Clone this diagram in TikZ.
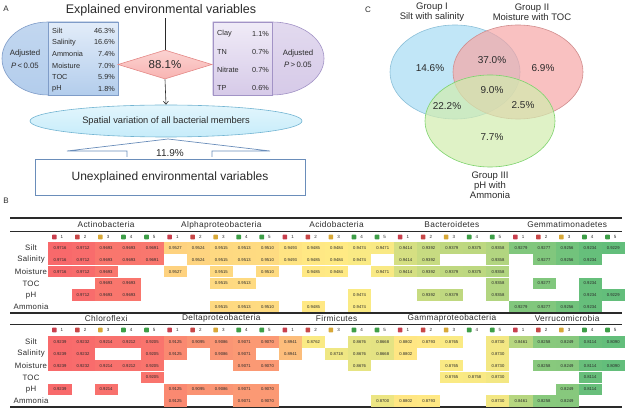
\documentclass[tikz,border=0pt]{standalone}
\usepackage{fontspec}
\setmainfont{Liberation Sans}
\usetikzlibrary{shapes.geometric,arrows.meta}
\definecolor{cred}{HTML}{F8696B}
\definecolor{cyel}{HTML}{FFEB84}
\definecolor{cgrn}{HTML}{63BE7B}
\definecolor{lblue}{HTML}{B3CDEC}
\definecolor{lblue2}{HTML}{CFE0F5}
\definecolor{bblue}{HTML}{7F9CC8}
\definecolor{lpur}{HTML}{D6CAE8}
\definecolor{lpur2}{HTML}{E6DEF2}
\definecolor{bpur}{HTML}{A293C6}
\definecolor{lpink}{HTML}{F8B4B2}
\definecolor{bpink}{HTML}{E48886}
\definecolor{lcyan}{HTML}{C6ECFA}
\definecolor{bcyan}{HTML}{72B4D2}
\definecolor{bbox}{HTML}{6A8DBA}
\definecolor{vblue}{HTML}{A6DCF4}
\definecolor{vbluel}{HTML}{8CBFD8}
\definecolor{vred}{HTML}{F6A6A6}
\definecolor{vredl}{HTML}{D08E8E}
\definecolor{vgrn}{HTML}{D2ECAE}
\definecolor{vgrnl}{HTML}{7CD36C}
\definecolor{leg1}{HTML}{C8404E}
\definecolor{leg2}{HTML}{C84848}
\definecolor{leg3}{HTML}{D8A838}
\definecolor{leg4}{HTML}{3E9E48}
\definecolor{leg5}{HTML}{3E9E48}
\definecolor{txt}{HTML}{2A2A2A}
\newcommand{\bcell}[3]{%
  \pgfmathsetmacro{\bcx}{60+23.05*#1}%
  \pgfmathsetmacro{\bcy}{\rowbase+11.8*#2}%
  \pgfmathtruncatemacro{\isup}{#3>=\tmd}%
  \ifnum\isup=1
    \pgfmathtruncatemacro{\pctv}{max(0,min(100,(#3-\tmd)/(\thi-\tmd)*100))}%
    \colorlet{cellc}{cred!\pctv!cyel}%
  \else
    \pgfmathtruncatemacro{\pctv}{max(0,min(100,(#3-\tlo)/(\tmd-\tlo)*100))}%
    \colorlet{cellc}{cyel!\pctv!cgrn}%
  \fi
  \fill[cellc] (\bcx-11.53,\bcy-5.7) rectangle (\bcx+11.53,\bcy+5.7);%
  \node[val] at (\bcx,\bcy) {#3};%
}
\begin{document}
\begin{tikzpicture}[x=1pt,y=-1pt,
  lbl/.style={font=\fontsize{8}{9}\selectfont, text=txt, inner sep=0},
  ttl/.style={font=\fontsize{12.5}{14}\selectfont, text=txt, inner sep=0},
  lst/.style={font=\fontsize{7.3}{8}\selectfont, text=txt, inner sep=0},
  adj/.style={font=\fontsize{7.8}{9}\selectfont, text=txt, inner sep=0},
  venn/.style={font=\fontsize{9.5}{11}\selectfont, text=txt, inner sep=0, align=center},
  vpct/.style={font=\fontsize{10}{11}\selectfont, text=txt, inner sep=0},
  val/.style={font=\fontsize{4.2}{5}\selectfont, text=txt, inner sep=0},
  dig/.style={font=\fontsize{4.5}{5}\selectfont, text=txt, inner sep=0},
  hdr/.style={font=\fontsize{8.3}{9}\selectfont\addfontfeature{LetterSpace=4}, text=txt, inner sep=0},
  rowl/.style={font=\fontsize{7.8}{9}\selectfont\addfontfeature{LetterSpace=4}, text=txt, inner sep=0},
  thick rule/.style={line width=1.4pt, draw=txt},
  thin rule/.style={line width=0.6pt, draw=txt}
]
\useasboundingbox (0,0) rectangle (639,419);
%================ Panel A
\node[lbl] (labA) at (6,9) {A};
\node[ttl] (title) at (161,10) {Explained environmental variables};
% left shape
\path[top color=lblue!80!white, bottom color=lblue, draw=bblue, line width=0.6pt]
  (118,22) -- (48,22) arc[start angle=270,end angle=90,x radius=46,y radius=36.5] -- (118,95) -- cycle;
\node[draw=bblue, line width=0.6pt, top color=lblue2!60!white, bottom color=lblue, minimum width=70pt, minimum height=73pt, inner sep=0, anchor=north west] (lbox) at (48,22) {};
\node[adj] (adjl) at (25,53) {Adjusted};
\node[adj] (pl) at (25,66) {\textit{P}\,<\,0.05};
\foreach \nm/\vv [count=\k from 0] in {Silt/46.3\%, Salinity/16.6\%, Ammonia/7.4\%, Moisture/7.0\%, TOC/5.9\%, pH/1.8\%}{
  \node[lst, anchor=west] at (52,30.5+11.7*\k) {\nm};
  \node[lst, anchor=east] at (115,30.5+11.7*\k) {\vv};
}
% right shape
\path[top color=lpur!70!white, bottom color=lpur, draw=bpur, line width=0.6pt]
  (213,22) -- (272,22) arc[start angle=-90,end angle=90,x radius=52,y radius=36.5] -- (213,95) -- cycle;
\node[draw=bpur, line width=0.6pt, top color=lpur2!60!white, bottom color=lpur, minimum width=59pt, minimum height=73pt, inner sep=0, anchor=north west] (rbox) at (213,22) {};
\node[adj] (adjr) at (298,53) {Adjusted};
\node[adj] (pr) at (298,65) {\textit{P}\,>\,0.05};
\foreach \nm/\vv [count=\k from 0] in {Clay/1.1\%, TN/0.7\%, Nitrate/0.7\%, TP/0.6\%}{
  \node[lst, anchor=west] at (217,33.5+18.2*\k) {\nm};
  \node[lst, anchor=east] at (269,33.5+18.2*\k) {\vv};
}
% diamond
\node[diamond, draw=bpink, line width=0.6pt, top color=lpink!60!white, bottom color=lpink, aspect=3.2, minimum width=94pt, minimum height=29pt, inner sep=0pt, font=\fontsize{11.5}{13}\selectfont, text=txt] (dia) at (165,64.5) {88.1\%};
% ellipse
\node[ellipse, draw=bcyan, line width=0.6pt, top color=lcyan!50!white, bottom color=lcyan, minimum width=272pt, minimum height=32pt, inner sep=0pt, font=\fontsize{9.3}{11}\selectfont, text=txt] (ell) at (166,121) {Spatial variation of all bacterial members};
% connectors
\draw[line width=0.6pt, txt] (title.south -| dia.north) ++(0,2) -- (dia.north);
\draw[line width=0.6pt, txt, -{Straight Barb[length=3pt,width=5pt]}] (dia.south) -- (ell.north);
% callout
\coordinate (apex) at (168,139);
\draw[bbox, line width=0.7pt] (127,157) -- (127,151) -- (67,151) -- (apex) -- (270,151) -- (212,151) -- (212,157);
\node[font=\fontsize{10}{11}\selectfont, text=txt, inner sep=0] (p119) at (170,153) {11.9\%};
\node[draw=bbox, line width=0.8pt, fill=white, minimum width=270pt, minimum height=36pt, inner sep=0, font=\fontsize{12}{14}\selectfont, text=txt] (unex) at (170,177) {Unexplained environmental variables};
%================ Panel C
\node[lbl] (labC) at (368,10) {C};
\draw[fill=vblue, fill opacity=0.7, draw=vbluel, line width=0.6pt] (455,72) ellipse [x radius=65, y radius=47];
\draw[fill=vred, fill opacity=0.7, draw=vredl, line width=0.6pt] (518,72) ellipse [x radius=65, y radius=47];
\draw[fill=vgrn, fill opacity=0.7, draw=vgrnl, line width=0.6pt] (490,121) ellipse [x radius=65, y radius=46];
\node[venn] (g1) at (432,12.5) {Group I\\[-1pt]Silt with salinity};
\node[venn] (g2) at (532,12.5) {Group II\\[-1pt]Moisture with TOC};
\node[venn] (g3) at (490,185) {Group III\\[-1pt]pH with\\[-1pt]Ammonia};
\node[vpct] (v1) at (430,68) {14.6\%};
\node[vpct] (v12) at (492,60) {37.0\%};
\node[vpct] (v2) at (543,68) {6.9\%};
\node[vpct] (v123) at (492,90) {9.0\%};
\node[vpct] (v13) at (447,106) {22.2\%};
\node[vpct] (v23) at (523,105) {2.5\%};
\node[vpct] (v3) at (492,137) {7.7\%};
%================ Panel B
\node[lbl] (labB) at (6,201) {B};
% ---- top table
\draw[thick rule] (10,218) -- (622,218);
\draw[thin rule] (10,231) -- (622,231);
\foreach \n [count=\k from 0] in {Actinobacteria, Alphaproteobacteria, Acidobacteria, Bacteroidetes, Gemmatimonadetes}{
  \node[hdr] at (106.1+115.25*\k, 225) {\n};
}
\foreach \i in {0,...,24}{
  \pgfmathtruncatemacro{\dg}{mod(\i,5)+1}
  \fill[leg\dg, rounded corners=0.6pt] (60+23.05*\i-8, 237-2.3) rectangle ++(4.6,4.6);
  \node[dig] at (60+23.05*\i+2,237) {\dg};
}
\foreach \r [count=\k from 0] in {Silt,Salinity,Moisture,TOC,pH,Ammonia}{
  \node[rowl] at (31, 248+11.8*\k) {\r};
}
\def\rowbase{248}\def\tlo{0.9229}\def\tmd{0.948}\def\thi{0.9716}
\foreach \c/\v in {0/0.9716,1/0.9712,2/0.9693,3/0.9693,4/0.9691,5/0.9527,6/0.9524,7/0.9515,8/0.9513,9/0.9510,10/0.9493,11/0.9485,12/0.9484,13/0.9474,14/0.9471,15/0.9414,16/0.9392,17/0.9379,18/0.9375,19/0.9358,20/0.9279,21/0.9277,22/0.9256,23/0.9234,24/0.9229}{\bcell{\c}{0}{\v}}
\foreach \c/\v in {0/0.9716,1/0.9712,2/0.9693,3/0.9693,4/0.9691,6/0.9524,7/0.9515,8/0.9513,9/0.9510,10/0.9493,11/0.9485,12/0.9484,13/0.9474,15/0.9414,16/0.9392,19/0.9358,21/0.9277,22/0.9256,23/0.9234}{\bcell{\c}{1}{\v}}
\foreach \c/\v in {0/0.9716,1/0.9712,2/0.9693,5/0.9527,7/0.9515,9/0.9510,11/0.9485,12/0.9484,14/0.9471,15/0.9414,16/0.9392,17/0.9379,18/0.9375,19/0.9358}{\bcell{\c}{2}{\v}}
\foreach \c/\v in {2/0.9693,3/0.9693,7/0.9515,8/0.9513,19/0.9358,21/0.9277,23/0.9234}{\bcell{\c}{3}{\v}}
\foreach \c/\v in {1/0.9712,2/0.9693,3/0.9693,13/0.9474,16/0.9392,17/0.9379,19/0.9358,23/0.9234,24/0.9229}{\bcell{\c}{4}{\v}}
\foreach \c/\v in {7/0.9515,8/0.9513,9/0.9510,11/0.9485,13/0.9474,20/0.9279,21/0.9277,22/0.9256,23/0.9234}{\bcell{\c}{5}{\v}}
% ---- bottom table
\draw[thick rule] (10,313) -- (622,313);
\draw[thin rule] (10,324) -- (622,324);
\draw[thick rule] (10,407) -- (622,407);
\foreach \n [count=\k from 0] in {Chloroflexi, Deltaproteobacteria, Firmicutes, Gammaproteobacteria, Verrucomicrobia}{
  \node[hdr] at (106.1+115.25*\k, 318.5) {\n};
}
\foreach \i in {0,...,24}{
  \pgfmathtruncatemacro{\dg}{mod(\i,5)+1}
  \fill[leg\dg, rounded corners=0.6pt] (60+23.05*\i-8, 330-2.3) rectangle ++(4.6,4.6);
  \node[dig] at (60+23.05*\i+2,330) {\dg};
}
\foreach \r [count=\k from 0] in {Silt,Salinity,Moisture,TOC,pH,Ammonia}{
  \node[rowl] at (31, 342+11.8*\k) {\r};
}
\def\rowbase{342}\def\tlo{0.8090}\def\tmd{0.878}\def\thi{0.9239}
\foreach \c/\v in {0/0.9239,1/0.9232,2/0.9214,3/0.9212,4/0.9205,5/0.9125,6/0.9095,7/0.9086,8/0.9071,9/0.9070,10/0.8941,11/0.8762,13/0.8676,14/0.8668,15/0.8802,16/0.8793,17/0.8765,19/0.8730,20/0.8461,21/0.8258,22/0.8249,23/0.8114,24/0.8090}{\bcell{\c}{0}{\v}}
\foreach \c/\v in {0/0.9239,1/0.9232,4/0.9205,5/0.9125,7/0.9086,8/0.9071,10/0.8941,12/0.8718,13/0.8676,14/0.8668,15/0.8802,19/0.8730}{\bcell{\c}{1}{\v}}
\foreach \c/\v in {0/0.9239,1/0.9232,2/0.9214,3/0.9212,4/0.9205,8/0.9071,9/0.9070,13/0.8676,17/0.8765,19/0.8730,21/0.8258,22/0.8249,23/0.8114,24/0.8090}{\bcell{\c}{2}{\v}}
\foreach \c/\v in {4/0.9205,17/0.8765,18/0.8758,19/0.8730,23/0.8114}{\bcell{\c}{3}{\v}}
\foreach \c/\v in {0/0.9239,2/0.9214,5/0.9125,6/0.9095,7/0.9086,8/0.9071,9/0.9070,22/0.8249,23/0.8114}{\bcell{\c}{4}{\v}}
\foreach \c/\v in {5/0.9125,8/0.9071,9/0.9070,14/0.8700,15/0.8802,16/0.8793,19/0.8730,20/0.8461,21/0.8258,22/0.8249}{\bcell{\c}{5}{\v}}
\end{tikzpicture}
\end{document}
